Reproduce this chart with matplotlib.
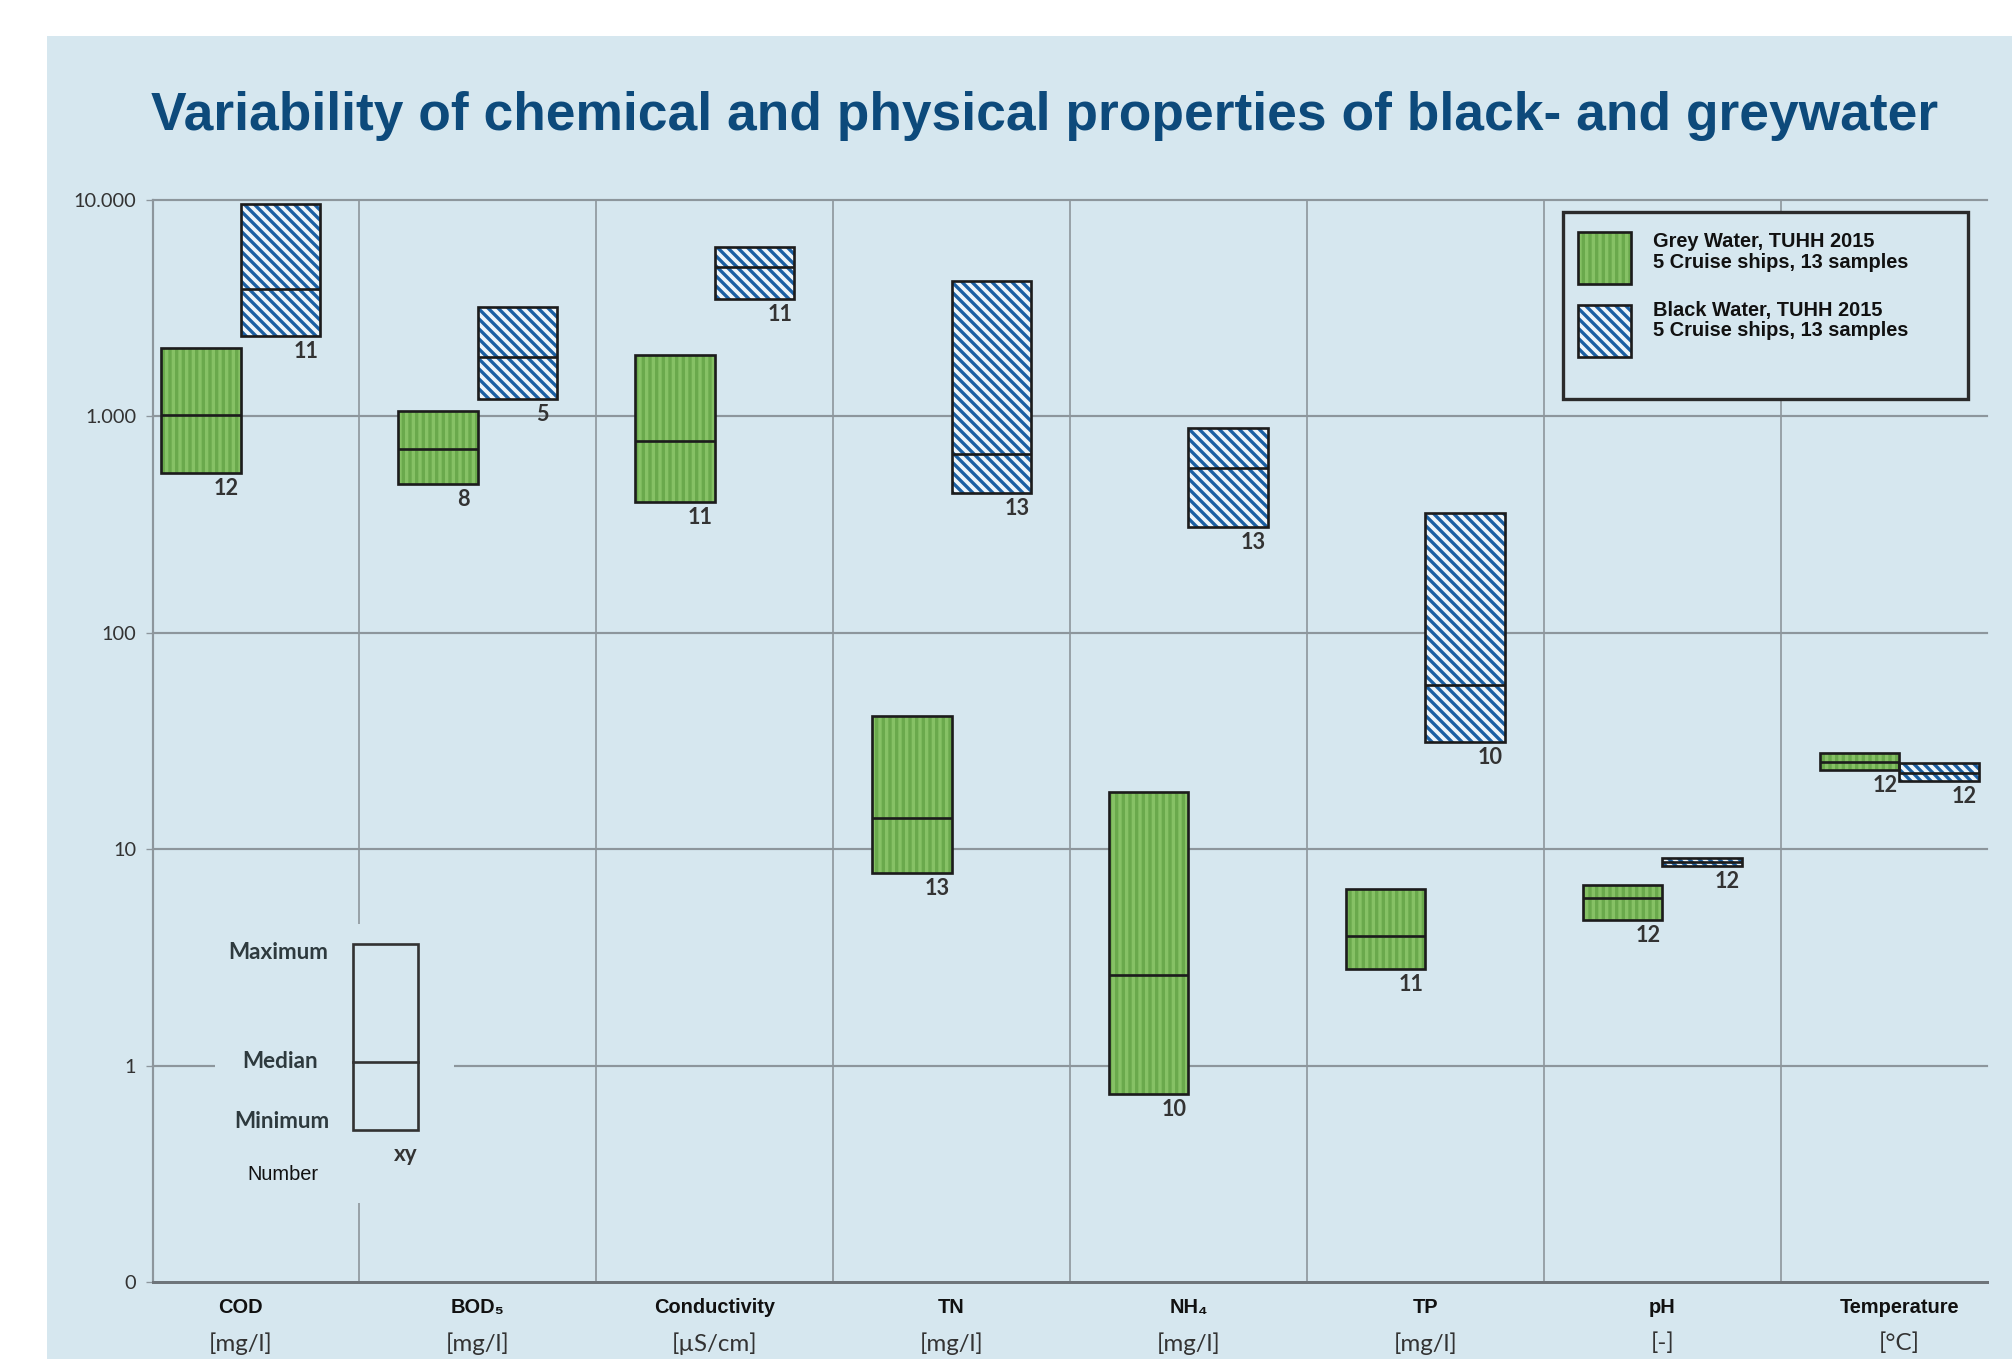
import numpy as np
import matplotlib
matplotlib.use("Agg")
import matplotlib.pyplot as plt
from matplotlib.patches import Rectangle
from matplotlib.ticker import NullLocator
from matplotlib.transforms import blended_transform_factory

# ── data ─────────────────────────────────────────────────────────────────────
categories = ["COD", "BOD₅", "Conductivity", "TN", "NH₄", "TP", "pH", "Temperature"]
units = ["[mg/l]", "[mg/l]", "[µS/cm]", "[mg/l]", "[mg/l]", "[mg/l]", "[-]", "[°C]"]

grey_min = [545, 489, 404, 7.8, 0.735, 2.8, 4.7, 23.3]
grey_med = [1020, 707, 767, 14.0, 2.62, 3.99, 5.93, 25.2]
grey_max = [2080, 1065, 1915, 41.3, 18.4, 6.53, 6.8, 27.8]
grey_n = [12, 8, 11, 13, 10, 11, 12, 12]

black_min = [2350, 1205, 3490, 444, 307, 31.4, 8.35, 20.6]
black_med = [3900, 1890, 4920, 670, 576, 57.3, 8.7, 22.6]
black_max = [9600, 3220, 6040, 4230, 880, 357, 9.06, 24.9]
black_n = [11, 5, 11, 13, 13, 10, 12, 12]

y_ticks = [0.1, 1, 10, 100, 1000, 10000]
y_tick_labels = ["0", "1", "10", "100", "1.000", "10.000"]

# ── style ────────────────────────────────────────────────────────────────────
PANEL = "#d6e7ef"
TITLE_BLUE = "#0d4a7b"
GRID = "#8d969c"
GREEN = "#86c165"
GREEN_HATCH = "#6aa94c"
BLUE = "#1b5fa3"
BLUE_FACE = "#eef5fa"
EDGE = "#1c1c1c"
TXT = "#333333"
NUM_FONT = ["Lato", "DejaVu Sans"]
LAB_FONT = ["Liberation Sans", "DejaVu Sans"]
GREY_HATCH = "|||"
BLACK_HATCH = "\\" * 4

plt.rcParams["hatch.linewidth"] = 2.0

fig = plt.figure(figsize=(2013 / 120, 1359 / 120), dpi=120)
fig.patch.set_facecolor("white")
fig.patches.append(Rectangle((0.0233, 0), 0.9767, 0.9735, transform=fig.transFigure,
                             facecolor=PANEL, edgecolor="none", zorder=-5))

fig.text(0.519, 0.915,
         "Variability of chemical and physical properties of black- and greywater",
         ha="center", va="center", fontsize=32, fontweight="bold",
         color=TITLE_BLUE, family=LAB_FONT)

ax = fig.add_axes([0.0760, 0.0567, 0.9111, 0.7961])
ax.set_zorder(2)
ax.set_facecolor("none")
ax.set_yscale("log")
ax.set_ylim(0.1, 10000)
ax.set_xlim(-0.37, 7.37)

# grid
for yv in y_ticks[1:]:
    ax.axhline(yv, color=GRID, lw=1.3, zorder=1, clip_on=False)
for xs in np.arange(0.5, 7, 1):
    ax.axvline(xs, color=GRID, lw=1.0, zorder=1)

ax.spines[["top", "right"]].set_visible(False)
ax.spines["left"].set_color(GRID)
ax.spines["left"].set_linewidth(1.3)
ax.spines["bottom"].set_color("#6e757a")
ax.spines["bottom"].set_linewidth(1.8)

ax.set_yticks(y_ticks)
ax.set_yticklabels(y_tick_labels)
ax.yaxis.set_minor_locator(NullLocator())
ax.tick_params(axis="y", length=4, color=GRID, labelsize=12, labelcolor=TXT, pad=6)
for lab in ax.get_yticklabels():
    lab.set_family(NUM_FONT)
ax.set_xticks([])

# boxes
x = np.arange(len(categories))
w = 0.335
g_h = np.array(grey_max) - np.array(grey_min)
b_h = np.array(black_max) - np.array(black_min)

ax.bar(x, g_h, bottom=grey_min, width=-w, align="edge", facecolor=GREEN,
       edgecolor=GREEN_HATCH, hatch=GREY_HATCH, linewidth=0, zorder=3)
ax.bar(x, g_h, bottom=grey_min, width=-w, align="edge", facecolor="none",
       edgecolor=EDGE, linewidth=1.6, zorder=4)
ax.hlines(grey_med, x - w, x, colors=EDGE, linewidth=1.6, zorder=5)

ax.bar(x, b_h, bottom=black_min, width=w, align="edge", facecolor=BLUE_FACE,
       edgecolor=BLUE, hatch=BLACK_HATCH, linewidth=0, zorder=3)
ax.bar(x, b_h, bottom=black_min, width=w, align="edge", facecolor="none",
       edgecolor=EDGE, linewidth=1.6, zorder=4)
ax.hlines(black_med, x, x + w, colors=EDGE, linewidth=1.6, zorder=5)

for xi, lo, n in zip(x, grey_min, grey_n):
    ax.annotate(str(n), (xi - 0.06, lo), xytext=(0, -3), textcoords="offset points",
                ha="center", va="top", fontsize=13, fontweight="bold",
                color=TXT, family=NUM_FONT, zorder=6)
for xi, lo, n in zip(x, black_min, black_n):
    ax.annotate(str(n), (xi + w - 0.06, lo), xytext=(0, -3), textcoords="offset points",
                ha="center", va="top", fontsize=13, fontweight="bold",
                color=TXT, family=NUM_FONT, zorder=6)

# category labels
trans = blended_transform_factory(ax.transData, ax.transAxes)
for xi, name, unit in zip(x, categories, units):
    ax.text(xi, -0.024, name, transform=trans, ha="center", va="center",
            fontsize=12, fontweight="bold", color="#111111", family=LAB_FONT,
            clip_on=False)
    ax.text(xi, -0.057, unit, transform=trans, ha="center", va="center",
            fontsize=14.5, color=TXT, family=NUM_FONT, clip_on=False)

# key (explanation box)
ax.add_patch(Rectangle((0.034, 0.073), 0.130, 0.258, transform=ax.transAxes,
                       facecolor=PANEL, edgecolor="none", zorder=2))
ax.add_patch(Rectangle((0.1091, 0.1405), 0.0354, 0.1719, transform=ax.transAxes,
                       facecolor="none", edgecolor="#333333", lw=1.6, zorder=3))
ax.plot([0.1091, 0.1445], [0.2033, 0.2033], transform=ax.transAxes,
        color="#333333", lw=1.6, zorder=3)
for txt, xx, yy in [("Maximum", 0.0682, 0.3041), ("Median", 0.0693, 0.2033),
                    ("Minimum", 0.0704, 0.1479)]:
    ax.text(xx, yy, txt, transform=ax.transAxes, ha="center", va="center",
            fontsize=13.5, color="#2e3a3e", family=NUM_FONT, fontweight="bold")
ax.text(0.0709, 0.0989, "Number", transform=ax.transAxes, ha="center", va="center",
        fontsize=12, color="#111111", family=LAB_FONT)
ax.text(0.138, 0.1174, "xy", transform=ax.transAxes, ha="center", va="center",
        fontsize=13.5, color=TXT, family=NUM_FONT, fontweight="bold")

# legend (drawn by hand)
ax.add_patch(Rectangle((0.7688, 0.8161), 0.2208, 0.1728, transform=ax.transAxes,
                       facecolor=PANEL, edgecolor="#2b2b2b", lw=2.0, zorder=6))
ax.add_patch(Rectangle((0.777, 0.9224), 0.029, 0.048, transform=ax.transAxes,
                       facecolor=GREEN, edgecolor=GREEN_HATCH, hatch=GREY_HATCH,
                       lw=0, zorder=7))
ax.add_patch(Rectangle((0.777, 0.9224), 0.029, 0.048, transform=ax.transAxes,
                       facecolor="none", edgecolor=EDGE, lw=1.6, zorder=8))
ax.add_patch(Rectangle((0.777, 0.8549), 0.029, 0.0481, transform=ax.transAxes,
                       facecolor=BLUE_FACE, edgecolor=BLUE, hatch=BLACK_HATCH,
                       lw=0, zorder=7))
ax.add_patch(Rectangle((0.777, 0.8549), 0.029, 0.0481, transform=ax.transAxes,
                       facecolor="none", edgecolor=EDGE, lw=1.6, zorder=8))
ax.text(0.8179, 0.9519, "Grey Water, TUHH 2015\n5 Cruise ships, 13 samples",
        transform=ax.transAxes, ha="left", va="center", fontsize=12,
        fontweight="bold", color="#111111", family=LAB_FONT, linespacing=1.1, zorder=8)
ax.text(0.8179, 0.8887, "Black Water, TUHH 2015\n5 Cruise ships, 13 samples",
        transform=ax.transAxes, ha="left", va="center", fontsize=12,
        fontweight="bold", color="#111111", family=LAB_FONT, linespacing=1.1, zorder=8)

fig.savefig("out.png", dpi=120)
